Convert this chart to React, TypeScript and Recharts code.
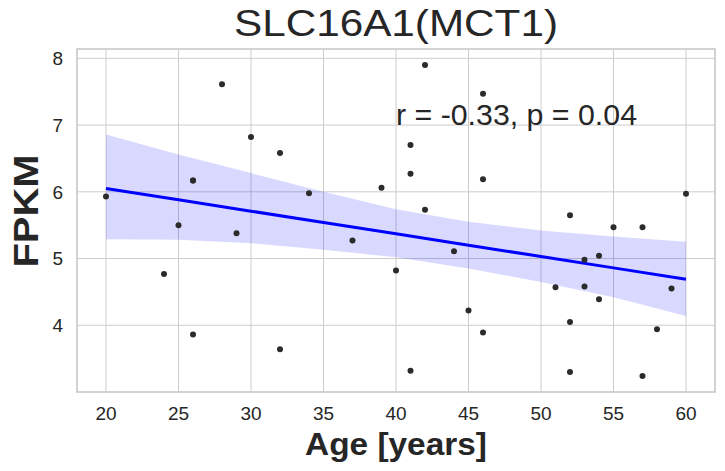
import {
  ComposedChart,
  Area,
  Line,
  Scatter,
  XAxis,
  YAxis,
  CartesianGrid,
  ReferenceArea,
  ReferenceDot,
} from 'recharts';

// individual samples
const ages = [
  20, 24, 25, 26, 26, 26, 28, 29, 30, 32, 32, 34, 37, 39, 40, 41, 41, 41, 42, 42,
  44, 45, 46, 46, 46, 51, 52, 52, 52, 53, 53, 54, 54, 55, 57, 57, 58, 59, 60,
];
const fpkm = [
  5.93, 4.77, 5.5, 6.17, 6.17, 3.86, 7.61, 5.38, 6.82, 6.58, 3.64, 5.98, 5.27, 6.06,
  4.82, 6.7, 6.27, 3.32, 7.9, 5.73, 5.11, 4.22, 7.47, 6.19, 3.89, 4.57, 5.65, 4.05,
  3.3, 4.98, 4.58, 5.04, 4.39, 5.47, 5.47, 3.24, 3.94, 4.55, 5.97,
];

// regression fit + confidence band, read at every 5 years
const fitAges = [20, 25, 30, 35, 40, 45, 50, 55, 60];
const fitValues = [6.05, 5.88, 5.71, 5.54, 5.37, 5.2, 5.03, 4.86, 4.69];
const ciLow = [5.29, 5.28, 5.23, 5.13, 5.02, 4.85, 4.65, 4.42, 4.14];
const ciHigh = [6.86, 6.56, 6.28, 6.0, 5.74, 5.55, 5.42, 5.33, 5.25];

const xTicks = [20, 25, 30, 35, 40, 45, 50, 55, 60];
const yTicks = [4, 5, 6, 7, 8];

const title = 'SLC16A1(MCT1)';
const xLabel = 'Age [years]';
const yLabel = 'FPKM';
const statsText = 'r = -0.33, p = 0.04';

const points = ages.map((age, i) => ({ age, fpkm: fpkm[i] }));
const band = fitAges.map((age, i) => ({
  age,
  fit: fitValues[i],
  ci: [ciLow[i], ciHigh[i]],
}));

const textColor = '#262626';
const gridColor = '#cccccc';
const font = '"Liberation Sans", Arial, sans-serif';

export default function App() {
  return (
    <div style={{ position: 'absolute', left: 0, top: 0, width: 725, height: 471, background: '#fff' }}>
      <ComposedChart
        width={725}
        height={471}
        data={band}
        margin={{ top: 49, right: 10, left: 0, bottom: 0 }}
      >
        <CartesianGrid stroke={gridColor} strokeWidth={1} />
        <XAxis
          type="number"
          dataKey="age"
          domain={[18, 62]}
          ticks={xTicks}
          allowDataOverflow
          height={79}
          axisLine={false}
          tickLine={false}
          tickSize={6}
          tickMargin={9}
          tick={{ fill: textColor, fontSize: 19, fontFamily: font }}
        />
        <YAxis
          type="number"
          domain={[3.0, 8.14]}
          ticks={yTicks}
          allowDataOverflow
          width={77}
          axisLine={false}
          tickLine={false}
          tickSize={6}
          tickMargin={8}
          tick={{ fill: textColor, fontSize: 19, fontFamily: font }}
        />
        <ReferenceArea
          x1={18}
          x2={62}
          y1={3.0}
          y2={8.14}
          fill="none"
          fillOpacity={0}
          stroke={gridColor}
          strokeWidth={1.5}
          ifOverflow="visible"
        />
        <Area
          dataKey="ci"
          type="linear"
          stroke="none"
          fill="#0000ff"
          fillOpacity={0.15}
          isAnimationActive={false}
        />
        <Line
          dataKey="fit"
          type="linear"
          stroke="#0000ff"
          strokeWidth={3}
          dot={false}
          isAnimationActive={false}
        />
        <Scatter
          data={points}
          dataKey="fpkm"
          fill="#2b2b2b"
          shape={(p: any) => <circle cx={p.cx} cy={p.cy} r={3} fill="#2b2b2b" />}
          isAnimationActive={false}
        />
        <ReferenceDot
          x={40}
          y={7}
          r={0}
          fill="none"
          stroke="none"
          label={(p: any) => (
            <text
              x={p.viewBox.x}
              y={p.viewBox.y}
              fill={textColor}
              fontSize={30}
              fontFamily={font}
              textLength={241}
              lengthAdjust="spacingAndGlyphs"
            >
              {statsText}
            </text>
          )}
        />
      </ComposedChart>
      <svg
        width={725}
        height={471}
        style={{ position: 'absolute', left: 0, top: 0, pointerEvents: 'none' }}
      >
        <text
          x={396}
          y={36}
          textAnchor="middle"
          fill={textColor}
          fontSize={37}
          fontFamily={font}
          textLength={324}
          lengthAdjust="spacingAndGlyphs"
        >
          {title}
        </text>
        <text
          x={396}
          y={455}
          textAnchor="middle"
          fill={textColor}
          fontSize={32}
          fontWeight="bold"
          fontFamily={font}
          textLength={182}
          lengthAdjust="spacingAndGlyphs"
        >
          {xLabel}
        </text>
        <text
          x={0}
          y={0}
          transform="translate(38, 211) rotate(-90)"
          textAnchor="middle"
          fill={textColor}
          fontSize={35}
          fontWeight="bold"
          fontFamily={font}
          textLength={113}
          lengthAdjust="spacingAndGlyphs"
        >
          {yLabel}
        </text>
      </svg>
    </div>
  );
}
